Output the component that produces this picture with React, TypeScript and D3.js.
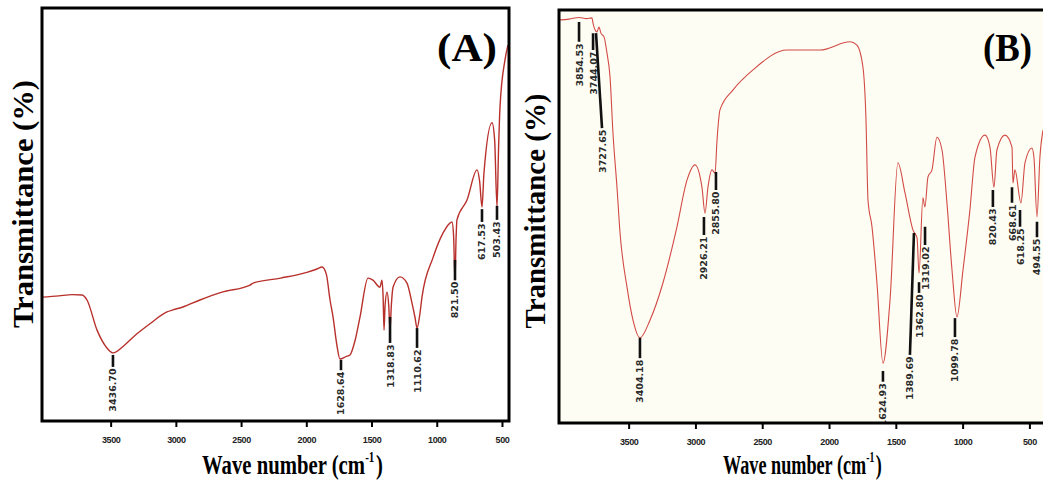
import React from "react";
import * as d3 from "d3";

// ---------- DATA ----------
const tickValues = [3500, 3000, 2500, 2000, 1500, 1000, 500];

// Panel A spectrum: [wavenumber (axis), transmittance (relative %)]
const spectrumA: [number, number][] = [
  [4030, 30.0], [3900, 30.3], [3800, 30.6], [3723, 30.5], [3685, 29.3], [3608, 22.0],
  [3540, 18.0], [3486, 16.5], [3400, 18.3], [3332, 20.3], [3200, 23.6], [3072, 26.4],
  [3026, 26.9], [2950, 27.6], [2819, 29.3], [2650, 31.2], [2435, 32.9], [2412, 33.4],
  [2200, 34.6], [2000, 36.0], [1922, 36.8], [1883, 37.3], [1850, 35.5], [1822, 29.3],
  [1799, 25.2], [1770, 18.5], [1746, 15.0], [1700, 15.6], [1669, 16.0], [1630, 19.5],
  [1592, 25.2], [1531, 34.6], [1493, 34.1], [1439, 32.4], [1424, 34.1], [1415, 30.0],
  [1408, 22.0], [1400, 28.0], [1385, 31.2], [1372, 28.0], [1362, 22.0], [1352, 28.0],
  [1339, 32.4], [1286, 34.9], [1232, 33.4], [1194, 28.6], [1170, 25.0], [1155, 22.5],
  [1135, 25.5], [1117, 30.0], [1033, 39.5], [956, 45.5], [887, 48.2], [875, 45.0],
  [864, 34.0], [856, 44.0], [849, 48.7], [772, 53.5], [695, 60.8], [675, 58.0],
  [657, 51.8], [642, 60.0], [580, 72.2], [560, 68.0], [542, 51.8], [530, 66.0],
  [519, 76.0], [481, 87.4], [458, 91.0],
];

// Panel B spectrum
const spectrumB: [number, number][] = [
  [4018, 97.6], [3950, 97.8], [3875, 98.2], [3820, 97.9], [3778, 98.1], [3771, 96.9],
  [3741, 94.7], [3726, 95.9], [3711, 94.4], [3688, 93.5], [3666, 89.6], [3643, 83.8],
  [3621, 70.2], [3591, 57.1], [3568, 46.0], [3516, 32.9], [3471, 24.9], [3419, 20.6],
  [3344, 24.9], [3247, 33.9], [3142, 47.5], [3067, 58.8], [3007, 62.5], [2955, 57.1],
  [2932, 50.8], [2910, 57.1], [2880, 61.3], [2857, 60.5], [2842, 68.5], [2820, 75.8],
  [2723, 80.6], [2573, 85.5], [2318, 90.3], [2071, 90.3], [1847, 92.3], [1795, 91.5],
  [1750, 86.2], [1727, 73.4], [1712, 54.0], [1682, 47.5], [1645, 33.9], [1600, 14.5],
  [1547, 29.8], [1488, 63.0], [1435, 55.7], [1375, 46.7], [1345, 44.8], [1330, 36.3],
  [1301, 54.5], [1286, 52.3], [1263, 59.6], [1233, 61.3], [1196, 69.2], [1158, 66.1],
  [1121, 53.3], [1083, 37.0], [1046, 25.7], [1001, 37.0], [949, 51.6], [911, 64.4],
  [836, 69.7], [799, 66.8], [769, 57.1], [747, 66.1], [687, 69.7], [634, 66.8],
  [627, 58.1], [612, 61.3], [567, 53.3], [537, 63.0], [485, 66.6], [470, 64.4],
  [447, 49.9], [425, 64.4], [402, 70.9],
];

// Peak annotations: label, wavenumber of leader top / bottom, transmittance of leader top / bottom
type Peak = { label: string; wn: number; wn2?: number; t1: number; t2: number };

const peaksA: Peak[] = [
  { label: "3436.70", wn: 3486, t1: 16.0, t2: 13.1 },
  { label: "1628.64", wn: 1738, t1: 14.8, t2: 12.3 },
  { label: "1318.83", wn: 1362, t1: 25.2, t2: 18.9 },
  { label: "1110.62", wn: 1155, t1: 22.5, t2: 17.7 },
  { label: "821.50", wn: 864, t1: 39.0, t2: 34.1 },
  { label: "617.53", wn: 657, t1: 51.3, t2: 48.2 },
  { label: "503.43", wn: 542, t1: 52.1, t2: 48.7 },
];

const peaksB: Peak[] = [
  { label: "3854.53", wn: 3875, t1: 97.1, t2: 92.3 },
  { label: "3744.07", wn: 3770, t1: 94.4, t2: 90.3 },
  { label: "3727.65", wn: 3748, wn2: 3703, t1: 94.4, t2: 71.4 },
  { label: "3404.18", wn: 3419, t1: 20.6, t2: 15.7 },
  { label: "2926.21", wn: 2940, t1: 49.9, t2: 45.5 },
  { label: "2855.80", wn: 2850, t1: 60.8, t2: 56.4 },
  { label: "1624.93", wn: 1600, t1: 12.6, t2: 10.0 },
  { label: "1389.69", wn: 1368, wn2: 1398, t1: 46.0, t2: 16.5 },
  { label: "1362.80", wn: 1330, t1: 34.1, t2: 31.5 },
  { label: "1319.02", wn: 1285, t1: 47.5, t2: 43.1 },
  { label: "1099.78", wn: 1061, t1: 25.4, t2: 20.8 },
  { label: "820.43", wn: 777, t1: 56.4, t2: 52.3 },
  { label: "668.61", wn: 634, t1: 57.1, t2: 53.3 },
  { label: "618.25", wn: 574, t1: 51.6, t2: 47.5 },
  { label: "494.55", wn: 447, t1: 48.7, t2: 45.0 },
];

const xTitleMain = "Wave number (cm";
const xTitleSup = "-1";
const xTitleEnd = ")";
const yTitle = "Transmittance (%)";

// ---------- COMPONENTS ----------
type PanelProps = {
  left: number; right: number; top: number; bottom: number;
  xDomain: [number, number];
  data: [number, number][];
  peaks: Peak[];
  lineColor: string; lineWidth: number;
  fill: string;
  panelLabel: string; labelX: number; labelW: number;
  xTitleX: number; xTitleScale: number;
  yTitleX: number; yTitleY: number; yTitleW: number;
  tickLabelY: number;
  clipId: string;
};

const MAIN_W = 219; // approx natural width of the main title text at 28px
const SUP_W = 12.5;

function Panel(p: PanelProps) {
  const x = d3.scaleLinear().domain(p.xDomain).range([p.left, p.right]);
  const y = d3.scaleLinear().domain([0, 100]).range([p.bottom, p.top]);
  const line = d3
    .line<[number, number]>()
    .x((d) => x(d[0]))
    .y((d) => y(d[1]))
    .curve(d3.curveMonotoneX);
  const serif = "'Liberation Serif', 'Times New Roman', serif";
  return (
    <g>
      <defs>
        <clipPath id={p.clipId}>
          <rect x={p.left} y={p.top} width={p.right - p.left} height={p.bottom - p.top} />
        </clipPath>
      </defs>
      <rect x={p.left} y={p.top} width={p.right - p.left} height={p.bottom - p.top} fill={p.fill} />
      <path d={line(p.data) || ""} fill="none" stroke={p.lineColor} strokeWidth={p.lineWidth}
        clipPath={`url(#${p.clipId})`} strokeLinejoin="round" />
      <g clipPath={`url(#${p.clipId})`}>
        {p.peaks.map((pk) => {
          const x1 = x(pk.wn);
          const x2 = x(pk.wn2 ?? pk.wn);
          const y1 = y(pk.t1);
          const y2 = y(pk.t2);
          return (
            <g key={pk.label}>
              <line x1={x1} y1={y1} x2={x2} y2={y2} stroke="#111" strokeWidth={2.6} />
              <text
                transform={`translate(${x2},${y2 + 1.5}) rotate(-90)`}
                textAnchor="end"
                dominantBaseline="central"
                fontFamily="'DejaVu Sans', sans-serif"
                fontWeight="bold"
                fontSize={9.5}
                fill="#2a2a2a"
              >
                {pk.label}
              </text>
            </g>
          );
        })}
      </g>
      <rect x={p.left} y={p.top} width={p.right - p.left} height={p.bottom - p.top}
        fill="none" stroke="#000" strokeWidth={3} />
      {tickValues.map((t) => (
        <g key={t}>
          <line x1={x(t)} x2={x(t)} y1={p.bottom} y2={p.bottom + 6} stroke="#000" strokeWidth={2} />
          <text x={x(t)} y={p.tickLabelY} textAnchor="middle" fontFamily="'Liberation Sans', Arial, sans-serif"
            fontWeight="bold" fontSize={9} fill="#222" letterSpacing={-0.4}>
            {t}
          </text>
        </g>
      ))}
      <text x={p.labelX} y={61} fontFamily={serif} fontWeight="bold" fontSize={41}
        textLength={p.labelW} lengthAdjust="spacingAndGlyphs" fill="#000">
        {p.panelLabel}
      </text>
      <g transform={`translate(${p.xTitleX},474) scale(${p.xTitleScale},1)`}
        fontFamily={serif} fontWeight="bold" fill="#000">
        <text x={0} y={0} fontSize={28}>{xTitleMain}</text>
        <text x={MAIN_W + 1.5} y={-12} fontSize={15}>{xTitleSup}</text>
        <text x={MAIN_W + 1.5 + SUP_W + 2} y={0} fontSize={28}>{xTitleEnd}</text>
      </g>
      <text transform={`translate(${p.yTitleX},${p.yTitleY}) rotate(-90)`} textAnchor="middle"
        fontFamily={serif} fontWeight="bold" fontSize={29}
        textLength={p.yTitleW} lengthAdjust="spacingAndGlyphs" fill="#000">
        {yTitle}
      </text>
    </g>
  );
}

export default function App() {
  return (
    <svg width={1043} height={483} style={{ position: "absolute", left: 0, top: 0, background: "#fff" }}>
      <Panel
        left={42} right={509} top={8} bottom={421}
        xDomain={[4030, 450]} data={spectrumA} peaks={peaksA}
        lineColor="#b8302c" lineWidth={1.4} fill="#fff"
        panelLabel="(A)" labelX={437} labelW={60}
        xTitleX={202} xTitleScale={0.74}
        yTitleX={33} yTitleY={204} yTitleW={248}
        tickLabelY={443} clipId="clipA"
      />
      <Panel
        left={559} right={1044.6} top={10} bottom={423}
        xDomain={[4025, 390]} data={spectrumB} peaks={peaksB}
        lineColor="#d24a46" lineWidth={1.1} fill="#fefdf3"
        panelLabel="(B)" labelX={983} labelW={49}
        xTitleX={723} xTitleScale={0.65}
        yTitleX={545} yTitleY={211} yTitleW={235}
        tickLabelY={445} clipId="clipB"
      />
    </svg>
  );
}
